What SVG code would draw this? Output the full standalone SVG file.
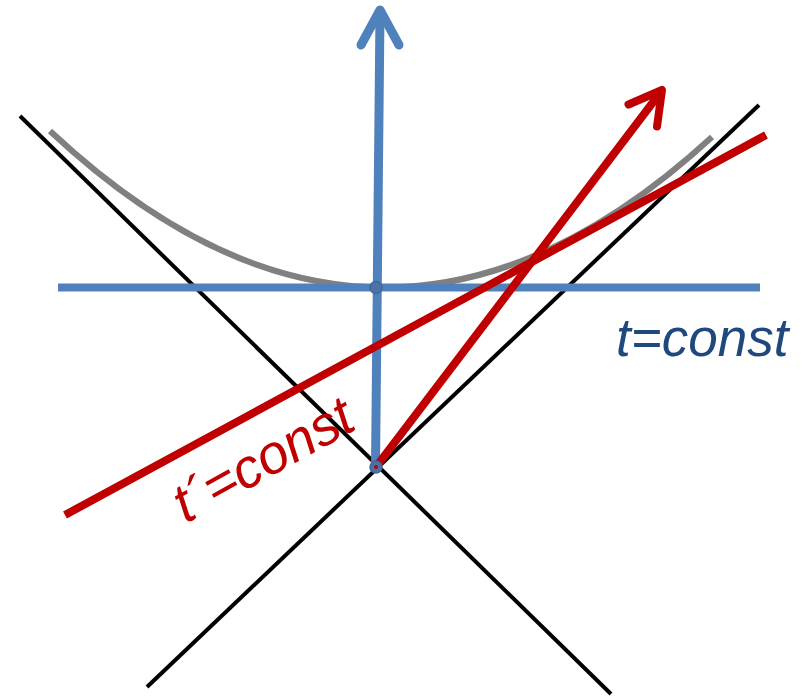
<svg xmlns="http://www.w3.org/2000/svg" width="805" height="696" viewBox="0 0 805 696">
<style>
.blk{stroke:#000;stroke-width:4;fill:none}
.blue{stroke:#4F81BD;stroke-width:9;fill:none;stroke-linecap:round;stroke-linejoin:round}
.red{stroke:#C00000;stroke-width:8;fill:none;stroke-linecap:round;stroke-linejoin:round}
.gray{stroke:#808080;stroke-width:6;fill:none}
.lbl{font-family:"Liberation Sans",Arial,sans-serif;font-style:italic}
</style>
<rect width="805" height="696" fill="#fff"/>
<g id="connectors">
  <line class="blk" x1="20" y1="116" x2="611" y2="694"/>
  <line class="blk" x1="147" y1="687" x2="759" y2="105"/>
  <path id="hyperbola" class="gray" d="M50,131 Q381,441 712,137"/>
  <line x1="58" y1="287.5" x2="760" y2="287.5" stroke="#4F81BD" stroke-width="8"/>
  <line class="blue" x1="375.5" y1="467" x2="380" y2="12"/>
  <polyline class="blue" points="361,45 380,10 399,45"/>
  <line x1="65" y1="515" x2="766" y2="135" stroke="#C00000" stroke-width="8"/>
  <line class="red" x1="376" y1="467" x2="660" y2="93"/>
  <polyline class="red" points="628.5,104.5 662,90 657,126.5"/>
</g>
<g id="origin">
  <circle cx="376" cy="467" r="6" fill="#4A74A8" stroke="#3F6696" stroke-width="1.5"/>
  <circle cx="376" cy="467" r="2" fill="#C00000"/>
</g>
<g id="vertex">
  <circle cx="376" cy="287.5" r="6" fill="#4A74A8" stroke="#3F6696" stroke-width="1.5"/>
</g>
<g id="label-t">
  <text class="lbl" x="616" y="356" font-size="53" fill="#1F497D">t=const</text>
</g>
<g id="label-tprime">
  <text class="lbl" x="272" y="476" font-size="55" text-anchor="middle" fill="#C00000" transform="rotate(-29 272 476)">t´=const</text>
</g>
</svg>
